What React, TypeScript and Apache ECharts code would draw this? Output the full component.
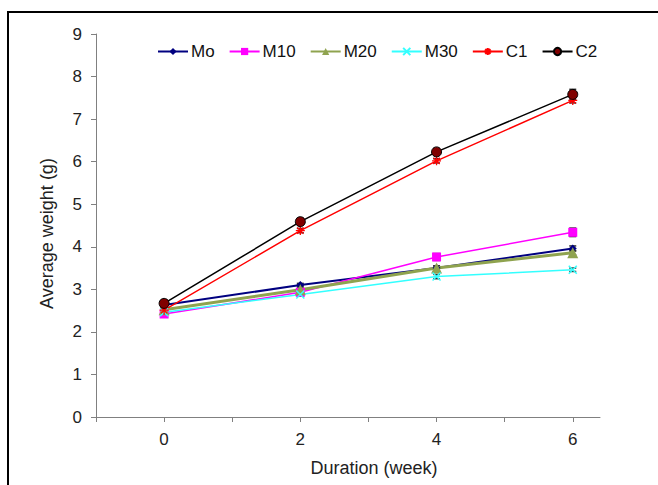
import React, { useEffect, useRef } from "react";
import * as echarts from "echarts";

const weeks = [0, 2, 4, 6];
const seriesNames = ["Mo", "M10", "M20", "M30", "C1", "C2"];
const moValues = [2.63, 3.1, 3.5, 3.96];
const m10Values = [2.42, 2.93, 3.76, 4.34];
const m20Values = [2.52, 2.99, 3.5, 3.86];
const m30Values = [2.46, 2.88, 3.3, 3.46];
const c1Values = [2.51, 4.38, 6.02, 7.44];
const c2Values = [2.67, 4.59, 6.23, 7.58];
const moErr = [0.05, 0.04, 0.05, 0.06];
const m10Err = [0.05, 0.05, 0.08, 0.1];
const m20Err = [0.04, 0.04, 0.05, 0.05];
const m30Err = [0.04, 0.04, 0.05, 0.04];
const c1Err = [0.06, 0.05, 0.05, 0.06];
const c2Err = [0.08, 0.08, 0.06, 0.12];
const xTickValues = [-1, 0, 1, 2, 3, 4, 5, 6];
const xLabelValues = [0, 2, 4, 6];

const colors = ["#000080", "#FF00FF", "#8FA34F", "#33FFFF", "#FF0000", "#000000"];

const X_PATH = "path://M0,0L10,10M10,0L0,10";
const STAR_PATH = "path://M0,5L10,5M5,0L5,10M1.5,1.5L8.5,8.5M8.5,1.5L1.5,8.5";

export default function App() {
  const ref = useRef<HTMLDivElement>(null);
  useEffect(() => {
    if (!ref.current) return;
    const chart = echarts.init(ref.current, undefined, { renderer: "svg" });
    const allValues = [moValues, m10Values, m20Values, m30Values, c1Values, c2Values];
    const allErr = [moErr, m10Err, m20Err, m30Err, c1Err, c2Err];
    const pairs = (vals: number[]) => weeks.map((w, i) => [w, vals[i]]);

    const errData: number[][] = [];
    allValues.forEach((vals, s) => {
      vals.forEach((v, i) => {
        errData.push([weeks[i], v - allErr[s][i], v + allErr[s][i]]);
      });
    });

    const base = {
      type: "line" as const,
      showAllSymbol: true,
      z: 3,
    };

    chart.setOption({
      animation: false,
      textStyle: { fontFamily: "Liberation Sans, Arial, sans-serif" },
      grid: { left: 96, top: 34, width: 504, height: 383, containLabel: false },
      legend: {
        top: 43,
        left: 157,
        padding: 0,
        itemWidth: 30,
        itemHeight: 9,
        itemGap: 14,
        textStyle: { fontSize: 17, color: "#111", padding: [0, 0, 0, -2] },
        data: seriesNames,
      },
      xAxis: {
        type: "value",
        min: -1,
        max: 6.4,
        interval: 1,
        name: "Duration (week)",
        nameLocation: "middle",
        nameGap: 42,
        nameTextStyle: { fontSize: 18, color: "#222", padding: [0, 0, 0, 52] },
        axisLine: { onZero: false, lineStyle: { color: "#808080", width: 1 } },
        axisTick: { show: true, length: 5, lineStyle: { color: "#808080" }, customValues: xTickValues },
        axisLabel: { fontSize: 17, color: "#222", margin: 14, customValues: xLabelValues },
        splitLine: { show: false },
      },
      yAxis: {
        type: "value",
        min: 0,
        max: 9,
        interval: 1,
        name: "Average weight (g)",
        nameLocation: "middle",
        nameGap: 40,
        nameTextStyle: { fontSize: 18, color: "#222", padding: [0, 16, 0, 0] },
        axisLine: { show: true, onZero: false, lineStyle: { color: "#808080", width: 1 } },
        axisTick: { show: true, length: 5, lineStyle: { color: "#808080" } },
        axisLabel: { fontSize: 17, color: "#222", margin: 14 },
        splitLine: { show: false },
      },
      graphic: [
        {
          type: "rect",
          shape: { x: 8, y: 12, width: 700, height: 520 },
          style: { fill: "none", stroke: "#000", lineWidth: 2 },
          silent: true,
        },
      ],
      series: [
        {
          type: "custom",
          name: "err",
          z: 2,
          data: errData,
          renderItem: (params: any, api: any) => {
            const lo = api.coord([api.value(0), api.value(1)]);
            const hi = api.coord([api.value(0), api.value(2)]);
            const w = 3.5;
            return {
              type: "group",
              children: [
                { type: "line", shape: { x1: lo[0], y1: lo[1], x2: hi[0], y2: hi[1] }, style: { stroke: "#333", lineWidth: 1 } },
                { type: "line", shape: { x1: hi[0] - w, y1: hi[1], x2: hi[0] + w, y2: hi[1] }, style: { stroke: "#333", lineWidth: 1.5 } },
                { type: "line", shape: { x1: lo[0] - w, y1: lo[1], x2: lo[0] + w, y2: lo[1] }, style: { stroke: "#333", lineWidth: 1.5 } },
              ],
            };
          },
          silent: true,
        },
        {
          ...base,
          name: "Mo",
          data: pairs(moValues),
          symbol: "diamond",
          symbolSize: 8,
          lineStyle: { color: colors[0], width: 2 },
          itemStyle: { color: colors[0] },
        },
        {
          ...base,
          name: "M10",
          data: pairs(m10Values),
          symbol: "rect",
          symbolSize: 9,
          lineStyle: { color: colors[1], width: 1.5 },
          itemStyle: { color: colors[1] },
        },
        {
          ...base,
          name: "M20",
          data: pairs(m20Values),
          symbol: "triangle",
          symbolSize: 11,
          lineStyle: { color: colors[2], width: 3 },
          itemStyle: { color: colors[2] },
        },
        {
          ...base,
          name: "M30",
          data: pairs(m30Values),
          symbol: X_PATH,
          symbolSize: 8,
          lineStyle: { color: colors[3], width: 1.5 },
          itemStyle: { color: colors[3], borderColor: colors[3], borderWidth: 1.5 },
        },
        {
          ...base,
          name: "C1",
          data: pairs(c1Values),
          symbol: STAR_PATH,
          symbolSize: 9,
          lineStyle: { color: colors[4], width: 1.5 },
          itemStyle: { color: colors[4], borderColor: colors[4], borderWidth: 1.3 },
        },
        {
          ...base,
          name: "C2",
          data: pairs(c2Values),
          symbol: "circle",
          symbolSize: 10,
          lineStyle: { color: "#000", width: 1.5 },
          itemStyle: { color: "#800000", borderColor: "#000", borderWidth: 1 },
        },
      ],
    });
    return () => chart.dispose();
  }, []);
  return (
    <div
      ref={ref}
      style={{ position: "fixed", left: 0, top: 0, width: 658, height: 485, background: "#fff" }}
    />
  );
}
